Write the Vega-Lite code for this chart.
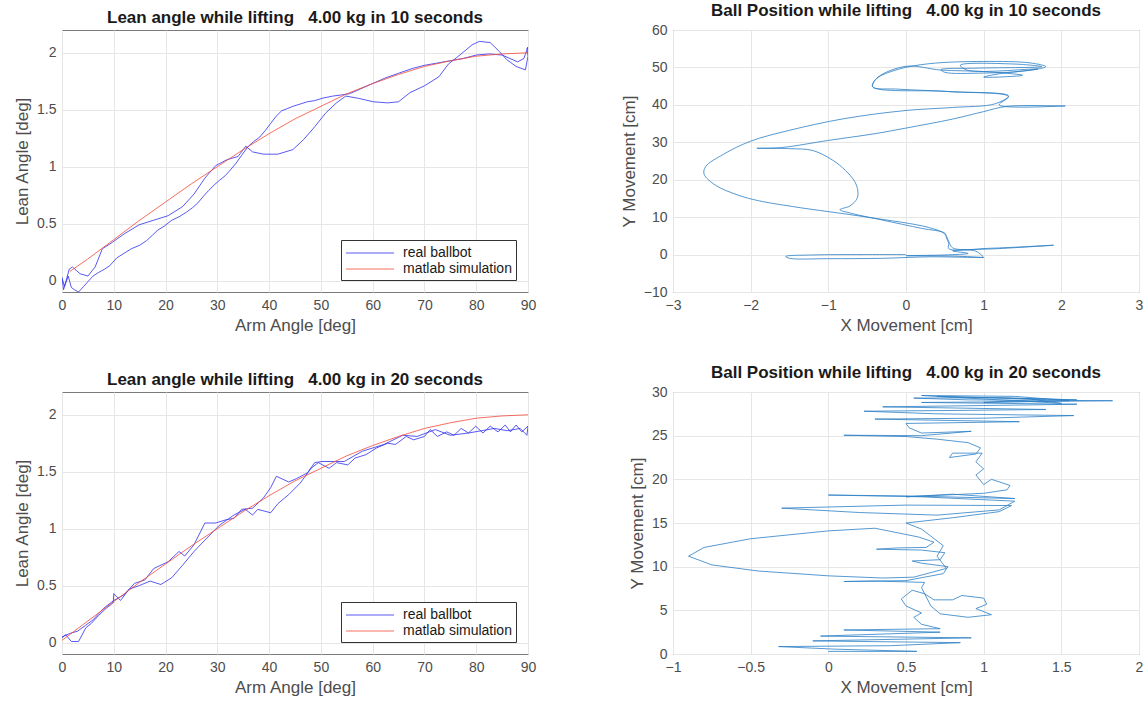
{
  "$schema": "https://vega.github.io/schema/vega-lite/v6.json",
  "background": "white",
  "padding": {"left": 13, "top": 1, "right": 2, "bottom": 2},
  "config": {
    "font": "Liberation Sans",
    "view": {"stroke": "#7a7a7a", "strokeWidth": 1},
    "axis": {"grid": true, "gridColor": "#e6e6e6", "gridWidth": 1, "domain": false, "ticks": false, "labelFontSize": 14, "labelColor": "#4d4d4d", "labelPadding": 6, "labelFlush": false, "labelOverlap": false, "titleFontSize": 17, "titleFontWeight": "normal", "titleColor": "#4d4d4d", "titlePadding": 5},
    "title": {"fontSize": 17, "fontWeight": "bold", "color": "#1a1a1a", "offset": 3}
  },
  "columns": 2,
  "bounds": "flush",
  "spacing": {"row": 100, "column": 145},
  "resolve": {"scale": {"color": "independent"}, "legend": {"color": "independent"}},
  "datasets": {
    "lean10": [
      {"s":"real ballbot","i":0,"x":0,"y":0.02},{"s":"real ballbot","i":1,"x":0.5,"y":-0.05},{"s":"real ballbot","i":2,"x":1.2,"y":0.04},{"s":"real ballbot","i":3,"x":1.8,"y":-0.06},{"s":"real ballbot","i":4,"x":2.4,"y":-0.08},{"s":"real ballbot","i":5,"x":3.2,"y":-0.1},{"s":"real ballbot","i":6,"x":4.2,"y":-0.05},{"s":"real ballbot","i":7,"x":5,"y":-0.01},{"s":"real ballbot","i":8,"x":6,"y":0.04},{"s":"real ballbot","i":9,"x":7,"y":0.07},{"s":"real ballbot","i":10,"x":8.2,"y":0.1},{"s":"real ballbot","i":11,"x":9.2,"y":0.13},{"s":"real ballbot","i":12,"x":10.6,"y":0.2},{"s":"real ballbot","i":13,"x":12,"y":0.24},{"s":"real ballbot","i":14,"x":13.4,"y":0.28},{"s":"real ballbot","i":15,"x":15,"y":0.31},{"s":"real ballbot","i":16,"x":16.3,"y":0.35},{"s":"real ballbot","i":17,"x":17.5,"y":0.4},{"s":"real ballbot","i":18,"x":18.4,"y":0.44},{"s":"real ballbot","i":19,"x":19.8,"y":0.48},{"s":"real ballbot","i":20,"x":21.2,"y":0.53},{"s":"real ballbot","i":21,"x":22.6,"y":0.56},{"s":"real ballbot","i":22,"x":24,"y":0.6},{"s":"real ballbot","i":23,"x":25.2,"y":0.64},{"s":"real ballbot","i":24,"x":26.2,"y":0.68},{"s":"real ballbot","i":25,"x":27.3,"y":0.74},{"s":"real ballbot","i":26,"x":28.3,"y":0.79},{"s":"real ballbot","i":27,"x":29.4,"y":0.84},{"s":"real ballbot","i":28,"x":30.4,"y":0.88},{"s":"real ballbot","i":29,"x":31.5,"y":0.92},{"s":"real ballbot","i":30,"x":32.5,"y":0.97},{"s":"real ballbot","i":31,"x":33.6,"y":1.03},{"s":"real ballbot","i":32,"x":34.7,"y":1.1},{"s":"real ballbot","i":33,"x":36,"y":1.18},{"s":"real ballbot","i":34,"x":37,"y":1.22},{"s":"real ballbot","i":35,"x":38.2,"y":1.26},{"s":"real ballbot","i":36,"x":39.3,"y":1.32},{"s":"real ballbot","i":37,"x":40.3,"y":1.38},{"s":"real ballbot","i":38,"x":41.3,"y":1.44},{"s":"real ballbot","i":39,"x":42.4,"y":1.49},{"s":"real ballbot","i":40,"x":43.5,"y":1.51},{"s":"real ballbot","i":41,"x":44.6,"y":1.53},{"s":"real ballbot","i":42,"x":46,"y":1.55},{"s":"real ballbot","i":43,"x":47.4,"y":1.57},{"s":"real ballbot","i":44,"x":48.8,"y":1.58},{"s":"real ballbot","i":45,"x":50.2,"y":1.6},{"s":"real ballbot","i":46,"x":52.3,"y":1.62},{"s":"real ballbot","i":47,"x":54,"y":1.63},{"s":"real ballbot","i":48,"x":55.5,"y":1.64},{"s":"real ballbot","i":49,"x":57,"y":1.67},{"s":"real ballbot","i":50,"x":58.5,"y":1.7},{"s":"real ballbot","i":51,"x":60,"y":1.73},{"s":"real ballbot","i":52,"x":62.5,"y":1.78},{"s":"real ballbot","i":53,"x":65,"y":1.82},{"s":"real ballbot","i":54,"x":67.5,"y":1.86},{"s":"real ballbot","i":55,"x":70,"y":1.89},{"s":"real ballbot","i":56,"x":72.5,"y":1.91},{"s":"real ballbot","i":57,"x":75,"y":1.93},{"s":"real ballbot","i":58,"x":77.5,"y":1.95},{"s":"real ballbot","i":59,"x":80,"y":1.98},{"s":"real ballbot","i":60,"x":82.5,"y":1.99},{"s":"real ballbot","i":61,"x":85,"y":1.98},{"s":"real ballbot","i":62,"x":86.5,"y":1.95},{"s":"real ballbot","i":63,"x":88,"y":1.92},{"s":"real ballbot","i":64,"x":89.2,"y":1.95},{"s":"real ballbot","i":65,"x":90,"y":2.05},
      {"s":"real ballbot","i":66,"x":89.8,"y":2.04},{"s":"real ballbot","i":67,"x":90,"y":1.97},{"s":"real ballbot","i":68,"x":89.5,"y":1.85},{"s":"real ballbot","i":69,"x":87.7,"y":1.88},{"s":"real ballbot","i":70,"x":85.9,"y":1.94},{"s":"real ballbot","i":71,"x":84.5,"y":2.01},{"s":"real ballbot","i":72,"x":82.7,"y":2.09},{"s":"real ballbot","i":73,"x":80.6,"y":2.1},{"s":"real ballbot","i":74,"x":79.2,"y":2.07},{"s":"real ballbot","i":75,"x":77.1,"y":1.99},{"s":"real ballbot","i":76,"x":74.6,"y":1.9},{"s":"real ballbot","i":77,"x":72.8,"y":1.79},{"s":"real ballbot","i":78,"x":70,"y":1.71},{"s":"real ballbot","i":79,"x":67.2,"y":1.65},{"s":"real ballbot","i":80,"x":65,"y":1.57},{"s":"real ballbot","i":81,"x":62.9,"y":1.56},{"s":"real ballbot","i":82,"x":60.1,"y":1.57},{"s":"real ballbot","i":83,"x":57.3,"y":1.6},{"s":"real ballbot","i":84,"x":54.8,"y":1.62},{"s":"real ballbot","i":85,"x":53,"y":1.56},{"s":"real ballbot","i":86,"x":50.9,"y":1.47},{"s":"real ballbot","i":87,"x":48.8,"y":1.35},{"s":"real ballbot","i":88,"x":46.7,"y":1.24},{"s":"real ballbot","i":89,"x":44.6,"y":1.15},{"s":"real ballbot","i":90,"x":41.7,"y":1.11},{"s":"real ballbot","i":91,"x":38.9,"y":1.11},{"s":"real ballbot","i":92,"x":36.8,"y":1.13},{"s":"real ballbot","i":93,"x":35.5,"y":1.18},{"s":"real ballbot","i":94,"x":34,"y":1.09},{"s":"real ballbot","i":95,"x":31.8,"y":1.06},{"s":"real ballbot","i":96,"x":29.7,"y":1.01},{"s":"real ballbot","i":97,"x":27.6,"y":0.9},{"s":"real ballbot","i":98,"x":25.5,"y":0.76},{"s":"real ballbot","i":99,"x":23.3,"y":0.65},{"s":"real ballbot","i":100,"x":20.5,"y":0.57},{"s":"real ballbot","i":101,"x":17.7,"y":0.53},{"s":"real ballbot","i":102,"x":14.9,"y":0.49},{"s":"real ballbot","i":103,"x":12,"y":0.41},{"s":"real ballbot","i":104,"x":9.2,"y":0.32},{"s":"real ballbot","i":105,"x":7.8,"y":0.28},{"s":"real ballbot","i":106,"x":6.4,"y":0.12},{"s":"real ballbot","i":107,"x":5,"y":0.04},{"s":"real ballbot","i":108,"x":3.5,"y":0.06},{"s":"real ballbot","i":109,"x":2,"y":0.12},{"s":"real ballbot","i":110,"x":1.4,"y":0.1},{"s":"real ballbot","i":111,"x":0.8,"y":0.0},{"s":"real ballbot","i":112,"x":0.3,"y":-0.08},{"s":"real ballbot","i":113,"x":0,"y":0.03},
      {"s":"matlab simulation","i":0,"x":1.5,"y":0.08},{"s":"matlab simulation","i":1,"x":5,"y":0.19},{"s":"matlab simulation","i":2,"x":10,"y":0.36},{"s":"matlab simulation","i":3,"x":15,"y":0.53},{"s":"matlab simulation","i":4,"x":20,"y":0.69},{"s":"matlab simulation","i":5,"x":25,"y":0.85},{"s":"matlab simulation","i":6,"x":30,"y":1.0},{"s":"matlab simulation","i":7,"x":35,"y":1.15},{"s":"matlab simulation","i":8,"x":40,"y":1.29},{"s":"matlab simulation","i":9,"x":45,"y":1.42},{"s":"matlab simulation","i":10,"x":50,"y":1.53},{"s":"matlab simulation","i":11,"x":55,"y":1.64},{"s":"matlab simulation","i":12,"x":60,"y":1.73},{"s":"matlab simulation","i":13,"x":65,"y":1.81},{"s":"matlab simulation","i":14,"x":70,"y":1.88},{"s":"matlab simulation","i":15,"x":75,"y":1.93},{"s":"matlab simulation","i":16,"x":80,"y":1.97},{"s":"matlab simulation","i":17,"x":85,"y":1.99},{"s":"matlab simulation","i":18,"x":90,"y":2.0}
    ],
    "lean20": [
      {"s":"real ballbot","i":0,"x":0,"y":0.04},{"s":"real ballbot","i":1,"x":0.7,"y":0.07},{"s":"real ballbot","i":2,"x":1.8,"y":0.01},{"s":"real ballbot","i":3,"x":3.2,"y":0.01},{"s":"real ballbot","i":4,"x":4.6,"y":0.13},{"s":"real ballbot","i":5,"x":5.7,"y":0.17},{"s":"real ballbot","i":6,"x":7.1,"y":0.24},{"s":"real ballbot","i":7,"x":8.5,"y":0.3},{"s":"real ballbot","i":8,"x":9.9,"y":0.35},{"s":"real ballbot","i":9,"x":10,"y":0.43},{"s":"real ballbot","i":10,"x":11.3,"y":0.37},{"s":"real ballbot","i":11,"x":13,"y":0.47},{"s":"real ballbot","i":12,"x":14.9,"y":0.5},{"s":"real ballbot","i":13,"x":17,"y":0.54},{"s":"real ballbot","i":14,"x":19.1,"y":0.51},{"s":"real ballbot","i":15,"x":21.2,"y":0.57},{"s":"real ballbot","i":16,"x":23.3,"y":0.68},{"s":"real ballbot","i":17,"x":25.5,"y":0.8},{"s":"real ballbot","i":18,"x":27.6,"y":0.9},{"s":"real ballbot","i":19,"x":30.4,"y":1.03},{"s":"real ballbot","i":20,"x":33.2,"y":1.12},{"s":"real ballbot","i":21,"x":35.4,"y":1.17},{"s":"real ballbot","i":22,"x":36.8,"y":1.12},{"s":"real ballbot","i":23,"x":37.8,"y":1.17},{"s":"real ballbot","i":24,"x":40.3,"y":1.14},{"s":"real ballbot","i":25,"x":41.7,"y":1.22},{"s":"real ballbot","i":26,"x":43.8,"y":1.3},{"s":"real ballbot","i":27,"x":46,"y":1.4},{"s":"real ballbot","i":28,"x":48.1,"y":1.53},{"s":"real ballbot","i":29,"x":49.5,"y":1.58},{"s":"real ballbot","i":30,"x":51.6,"y":1.53},{"s":"real ballbot","i":31,"x":53,"y":1.58},{"s":"real ballbot","i":32,"x":55.2,"y":1.56},{"s":"real ballbot","i":33,"x":56.6,"y":1.62},{"s":"real ballbot","i":34,"x":58.7,"y":1.65},{"s":"real ballbot","i":35,"x":60.8,"y":1.71},{"s":"real ballbot","i":36,"x":62.9,"y":1.75},{"s":"real ballbot","i":37,"x":64.4,"y":1.74},{"s":"real ballbot","i":38,"x":66.5,"y":1.81},{"s":"real ballbot","i":39,"x":67.9,"y":1.78},{"s":"real ballbot","i":40,"x":70,"y":1.81},{"s":"real ballbot","i":41,"x":71.1,"y":1.87},{"s":"real ballbot","i":42,"x":72.5,"y":1.81},{"s":"real ballbot","i":43,"x":74.3,"y":1.85},{"s":"real ballbot","i":44,"x":75.7,"y":1.82},{"s":"real ballbot","i":45,"x":77.1,"y":1.88},{"s":"real ballbot","i":46,"x":78.5,"y":1.84},{"s":"real ballbot","i":47,"x":79.9,"y":1.9},{"s":"real ballbot","i":48,"x":81.3,"y":1.84},{"s":"real ballbot","i":49,"x":82.7,"y":1.9},{"s":"real ballbot","i":50,"x":84.2,"y":1.85},{"s":"real ballbot","i":51,"x":85.6,"y":1.91},{"s":"real ballbot","i":52,"x":86.6,"y":1.85},{"s":"real ballbot","i":53,"x":87.7,"y":1.91},{"s":"real ballbot","i":54,"x":88.8,"y":1.85},{"s":"real ballbot","i":55,"x":90,"y":1.9},{"s":"real ballbot","i":56,"x":89.8,"y":1.82},
      {"s":"real ballbot","i":57,"x":88.5,"y":1.88},{"s":"real ballbot","i":58,"x":86,"y":1.86},{"s":"real ballbot","i":59,"x":83.5,"y":1.88},{"s":"real ballbot","i":60,"x":81,"y":1.86},{"s":"real ballbot","i":61,"x":78.5,"y":1.84},{"s":"real ballbot","i":62,"x":75,"y":1.82},{"s":"real ballbot","i":63,"x":72.1,"y":1.87},{"s":"real ballbot","i":64,"x":68.6,"y":1.81},{"s":"real ballbot","i":65,"x":65.8,"y":1.82},{"s":"real ballbot","i":66,"x":62.2,"y":1.74},{"s":"real ballbot","i":67,"x":58,"y":1.68},{"s":"real ballbot","i":68,"x":54.5,"y":1.59},{"s":"real ballbot","i":69,"x":50.2,"y":1.59},{"s":"real ballbot","i":70,"x":48.8,"y":1.58},{"s":"real ballbot","i":71,"x":47.4,"y":1.49},{"s":"real ballbot","i":72,"x":45.3,"y":1.44},{"s":"real ballbot","i":73,"x":43.8,"y":1.41},{"s":"real ballbot","i":74,"x":41.4,"y":1.46},{"s":"real ballbot","i":75,"x":40.3,"y":1.36},{"s":"real ballbot","i":76,"x":38.9,"y":1.27},{"s":"real ballbot","i":77,"x":36.8,"y":1.18},{"s":"real ballbot","i":78,"x":34.7,"y":1.17},{"s":"real ballbot","i":79,"x":33.2,"y":1.09},{"s":"real ballbot","i":80,"x":31.8,"y":1.08},{"s":"real ballbot","i":81,"x":29.7,"y":1.05},{"s":"real ballbot","i":82,"x":27.6,"y":1.05},{"s":"real ballbot","i":83,"x":25.5,"y":0.86},{"s":"real ballbot","i":84,"x":23.7,"y":0.76},{"s":"real ballbot","i":85,"x":22.6,"y":0.8},{"s":"real ballbot","i":86,"x":20.5,"y":0.71},{"s":"real ballbot","i":87,"x":17.7,"y":0.65},{"s":"real ballbot","i":88,"x":16,"y":0.55},{"s":"real ballbot","i":89,"x":14,"y":0.52},{"s":"real ballbot","i":90,"x":12,"y":0.42},{"s":"real ballbot","i":91,"x":10,"y":0.37},{"s":"real ballbot","i":92,"x":8,"y":0.3},{"s":"real ballbot","i":93,"x":6,"y":0.2},{"s":"real ballbot","i":94,"x":4.5,"y":0.15},{"s":"real ballbot","i":95,"x":3,"y":0.1},{"s":"real ballbot","i":96,"x":1.5,"y":0.08},{"s":"real ballbot","i":97,"x":0,"y":0.05},
      {"s":"matlab simulation","i":0,"x":0,"y":0.02},{"s":"matlab simulation","i":1,"x":5,"y":0.19},{"s":"matlab simulation","i":2,"x":10,"y":0.36},{"s":"matlab simulation","i":3,"x":15,"y":0.53},{"s":"matlab simulation","i":4,"x":20,"y":0.69},{"s":"matlab simulation","i":5,"x":25,"y":0.85},{"s":"matlab simulation","i":6,"x":30,"y":1.0},{"s":"matlab simulation","i":7,"x":35,"y":1.15},{"s":"matlab simulation","i":8,"x":40,"y":1.29},{"s":"matlab simulation","i":9,"x":45,"y":1.42},{"s":"matlab simulation","i":10,"x":50,"y":1.53},{"s":"matlab simulation","i":11,"x":55,"y":1.64},{"s":"matlab simulation","i":12,"x":60,"y":1.73},{"s":"matlab simulation","i":13,"x":65,"y":1.81},{"s":"matlab simulation","i":14,"x":70,"y":1.88},{"s":"matlab simulation","i":15,"x":75,"y":1.93},{"s":"matlab simulation","i":16,"x":80,"y":1.97},{"s":"matlab simulation","i":17,"x":85,"y":1.99},{"s":"matlab simulation","i":18,"x":90,"y":2.0}
    ],
    "ball10": [
      {"i":0,"x":0.0,"y":0.0},{"i":1,"x":-0.55,"y":0.0},{"i":2,"x":-1.2,"y":-0.1},{"i":3,"x":-1.55,"y":-0.5},{"i":4,"x":-1.5,"y":-1.0},{"i":5,"x":-1.0,"y":-1.1},{"i":6,"x":-0.3,"y":-1.0},{"i":7,"x":0.3,"y":-0.6},{"i":8,"x":1.0,"y":-0.8},{"i":9,"x":0.6,"y":-0.4},{"i":10,"x":0.0,"y":-0.3},{"i":11,"x":0.5,"y":-0.1},{"i":12,"x":0.8,"y":0.3},{"i":13,"x":0.6,"y":1.0},{"i":14,"x":1.2,"y":1.6},{"i":15,"x":1.9,"y":2.5},{"i":16,"x":1.1,"y":1.7},{"i":17,"x":0.55,"y":1.6},{"i":18,"x":0.55,"y":3.0},{"i":19,"x":0.52,"y":4.5},{"i":20,"x":0.5,"y":5.7},{"i":21,"x":0.2,"y":7.0},{"i":22,"x":-0.3,"y":9.2},{"i":23,"x":-0.7,"y":11.0},{"i":24,"x":-0.85,"y":12.0},{"i":25,"x":-0.72,"y":13.0},{"i":26,"x":-0.63,"y":15.0},{"i":27,"x":-0.62,"y":17.0},{"i":28,"x":-0.66,"y":19.5},{"i":29,"x":-0.78,"y":22.5},{"i":30,"x":-0.95,"y":25.3},{"i":31,"x":-1.2,"y":27.8},{"i":32,"x":-1.5,"y":28.3},{"i":33,"x":-1.92,"y":28.4},{"i":34,"x":-1.6,"y":28.6},{"i":35,"x":-1.0,"y":30.5},{"i":36,"x":-0.4,"y":32.3},{"i":37,"x":0.0,"y":33.8},{"i":38,"x":0.6,"y":36.2},{"i":39,"x":1.0,"y":38.2},{"i":40,"x":1.3,"y":39.6},{"i":41,"x":2.05,"y":39.7},{"i":42,"x":1.2,"y":40.0},{"i":43,"x":1.32,"y":42.2},{"i":44,"x":0.6,"y":43.5},{"i":45,"x":-0.1,"y":44.2},{"i":46,"x":-0.43,"y":44.8},{"i":47,"x":-0.38,"y":47.0},{"i":48,"x":-0.1,"y":49.5},{"i":49,"x":0.3,"y":51.0},{"i":50,"x":1.0,"y":51.6},{"i":51,"x":1.6,"y":51.2},{"i":52,"x":1.8,"y":50.2},{"i":53,"x":1.5,"y":49.0},{"i":54,"x":1.0,"y":48.5},{"i":55,"x":0.5,"y":48.7},{"i":56,"x":0.45,"y":49.4},{"i":57,"x":0.9,"y":49.8},{"i":58,"x":1.75,"y":50.2},{"i":59,"x":1.4,"y":50.9},{"i":60,"x":0.7,"y":50.6},{"i":61,"x":0.8,"y":49.2},{"i":62,"x":1.7,"y":49.6},{"i":63,"x":1.2,"y":48.3},{"i":64,"x":1.0,"y":47.4},{"i":65,"x":1.5,"y":47.9},{"i":66,"x":1.0,"y":48.9},{"i":67,"x":0.45,"y":49.3},{"i":68,"x":0.0,"y":50.3},{"i":69,"x":-0.36,"y":47.4},{"i":70,"x":-0.43,"y":44.9},{"i":71,"x":0.5,"y":43.6},{"i":72,"x":1.32,"y":42.4},{"i":73,"x":1.15,"y":40.3},{"i":74,"x":0.6,"y":39.3},{"i":75,"x":0.0,"y":38.5},{"i":76,"x":-0.8,"y":36.3},{"i":77,"x":-1.5,"y":33.2},{"i":78,"x":-2.0,"y":30.3},{"i":79,"x":-2.35,"y":26.8},{"i":80,"x":-2.58,"y":23.5},{"i":81,"x":-2.6,"y":21.5},{"i":82,"x":-2.45,"y":18.5},{"i":83,"x":-2.15,"y":15.8},{"i":84,"x":-1.9,"y":14.4},{"i":85,"x":-1.45,"y":12.8},{"i":86,"x":-0.5,"y":10.0},{"i":87,"x":0.3,"y":7.2},{"i":88,"x":0.5,"y":5.5},{"i":89,"x":0.55,"y":3.5},{"i":90,"x":0.6,"y":1.8},{"i":91,"x":0.9,"y":0.9},{"i":92,"x":1.0,"y":-0.7}
    ],
    "ball20": [
      {"i":0,"x":0.0,"y":0.3},{"i":1,"x":0.57,"y":0.3},{"i":2,"x":0.05,"y":0.55},{"i":3,"x":-0.32,"y":0.85},{"i":4,"x":0.4,"y":0.95},{"i":5,"x":0.85,"y":1.3},{"i":6,"x":-0.1,"y":1.5},{"i":7,"x":0.92,"y":1.85},{"i":8,"x":-0.05,"y":2.05},{"i":9,"x":0.72,"y":2.5},{"i":10,"x":0.1,"y":2.75},{"i":11,"x":0.72,"y":2.9},{"i":12,"x":0.6,"y":3.4},{"i":13,"x":0.55,"y":4.2},{"i":14,"x":0.6,"y":4.7},{"i":15,"x":0.5,"y":5.5},{"i":16,"x":0.47,"y":6.3},{"i":17,"x":0.54,"y":7.3},{"i":18,"x":0.62,"y":6.9},{"i":19,"x":0.68,"y":6.2},{"i":20,"x":0.8,"y":6.2},{"i":21,"x":0.86,"y":6.7},{"i":22,"x":1.0,"y":6.4},{"i":23,"x":1.02,"y":5.7},{"i":24,"x":0.95,"y":5.2},{"i":25,"x":1.05,"y":4.5},{"i":26,"x":0.9,"y":4.2},{"i":27,"x":0.72,"y":4.6},{"i":28,"x":0.66,"y":5.5},{"i":29,"x":0.6,"y":7.6},{"i":30,"x":0.62,"y":8.2},{"i":31,"x":0.3,"y":8.35},{"i":32,"x":0.1,"y":8.3},{"i":33,"x":0.5,"y":8.4},{"i":34,"x":0.74,"y":9.2},{"i":35,"x":0.77,"y":10.0},{"i":36,"x":0.6,"y":10.4},{"i":37,"x":0.54,"y":10.65},{"i":38,"x":0.72,"y":10.8},{"i":39,"x":0.75,"y":11.6},{"i":40,"x":0.6,"y":11.9},{"i":41,"x":0.31,"y":12.0},{"i":42,"x":0.45,"y":12.15},{"i":43,"x":0.63,"y":12.2},{"i":44,"x":0.68,"y":12.8},{"i":45,"x":0.58,"y":13.4},{"i":46,"x":0.3,"y":14.4},{"i":47,"x":0.0,"y":14.1},{"i":48,"x":-0.5,"y":13.2},{"i":49,"x":-0.8,"y":12.2},{"i":50,"x":-0.9,"y":11.2},{"i":51,"x":-0.75,"y":10.2},{"i":52,"x":-0.45,"y":9.5},{"i":53,"x":0.0,"y":8.95},{"i":54,"x":0.35,"y":8.7},{"i":55,"x":0.55,"y":8.8},{"i":56,"x":0.76,"y":9.8},{"i":57,"x":0.7,"y":11.2},{"i":58,"x":0.74,"y":12.4},{"i":59,"x":0.66,"y":13.5},{"i":60,"x":0.6,"y":14.3},{"i":61,"x":0.5,"y":15.0},{"i":62,"x":0.8,"y":15.6},{"i":63,"x":1.1,"y":16.3},{"i":64,"x":1.18,"y":17.0},{"i":65,"x":0.5,"y":17.05},{"i":66,"x":-0.3,"y":16.7},{"i":67,"x":0.2,"y":16.2},{"i":68,"x":0.7,"y":15.9},{"i":69,"x":1.1,"y":16.5},{"i":70,"x":1.2,"y":17.5},{"i":71,"x":0.6,"y":18.0},{"i":72,"x":0.0,"y":18.2},{"i":73,"x":0.5,"y":18.1},{"i":74,"x":1.2,"y":17.8},{"i":75,"x":0.8,"y":18.3},{"i":76,"x":0.5,"y":18.0},{"i":77,"x":1.0,"y":18.4},{"i":78,"x":1.15,"y":18.8},{"i":79,"x":1.17,"y":19.3},{"i":80,"x":1.05,"y":20.0},{"i":81,"x":1.0,"y":19.4},{"i":82,"x":0.95,"y":20.5},{"i":83,"x":1.0,"y":21.2},{"i":84,"x":0.95,"y":22.0},{"i":85,"x":0.99,"y":23.0},{"i":86,"x":0.8,"y":23.0},{"i":87,"x":0.78,"y":22.5},{"i":88,"x":0.95,"y":22.9},{"i":89,"x":0.98,"y":23.6},{"i":90,"x":0.9,"y":24.2},{"i":91,"x":0.7,"y":24.6},{"i":92,"x":0.5,"y":24.9},{"i":93,"x":0.1,"y":25.05},{"i":94,"x":0.6,"y":25.0},{"i":95,"x":0.92,"y":25.5},{"i":96,"x":0.6,"y":25.3},{"i":97,"x":0.52,"y":25.9},{"i":98,"x":0.5,"y":26.4},{"i":99,"x":1.23,"y":26.6},{"i":100,"x":0.6,"y":26.8},{"i":101,"x":0.3,"y":26.9},{"i":102,"x":1.0,"y":27.0},{"i":103,"x":1.58,"y":27.3},{"i":104,"x":0.7,"y":27.5},{"i":105,"x":0.23,"y":27.8},{"i":106,"x":0.9,"y":27.9},{"i":107,"x":1.4,"y":28.0},{"i":108,"x":0.35,"y":28.3},{"i":109,"x":1.2,"y":28.5},{"i":110,"x":1.6,"y":28.6},{"i":111,"x":0.6,"y":28.8},{"i":112,"x":1.3,"y":28.9},{"i":113,"x":1.83,"y":29.0},{"i":114,"x":0.9,"y":29.1},{"i":115,"x":0.55,"y":29.3},{"i":116,"x":1.1,"y":29.35},{"i":117,"x":1.6,"y":29.1},{"i":118,"x":0.7,"y":29.5},{"i":119,"x":1.3,"y":29.2},{"i":120,"x":1.5,"y":28.7},{"i":121,"x":0.8,"y":29.4},{"i":122,"x":0.6,"y":29.6},{"i":123,"x":1.2,"y":29.5},{"i":124,"x":1.55,"y":29.0},{"i":125,"x":1.0,"y":28.8},{"i":126,"x":1.4,"y":29.2}
    ]
  },
  "concat": [
    {
      "title": "Lean angle while lifting \u00a0 4.00 kg in 10 seconds",
      "width": 466, "height": 262,
      "data": {"name": "lean10"},
      "mark": {"type": "line", "strokeWidth": 1, "opacity": 0.8, "clip": true},
      "encoding": {
        "x": {"field": "x", "type": "quantitative", "scale": {"domain": [0, 90], "nice": false}, "axis": {"title": "Arm Angle [deg]", "values": [0,10,20,30,40,50,60,70,80,90], "format": "~r"}},
        "y": {"field": "y", "type": "quantitative", "scale": {"domain": [-0.1, 2.2], "nice": false, "zero": false}, "axis": {"title": "Lean Angle [deg]", "values": [0,0.5,1,1.5,2], "format": "~r"}},
        "color": {"field": "s", "type": "nominal", "scale": {"domain": ["real ballbot", "matlab simulation"], "range": ["#3030f0", "#f54a3a"]},
          "legend": {"title": null, "orient": "bottom-right", "offset": 12, "padding": 4, "strokeColor": "#333333", "fillColor": "white", "symbolType": "M-1,0H5", "symbolSize": 256, "symbolStrokeWidth": 1.2, "symbolFillColor": "transparent", "labelFontSize": 14, "labelColor": "#1a1a1a", "rowPadding": 0, "labelOffset": 40}},
        "order": {"field": "i", "type": "quantitative"}
      }
    },
    {
      "title": "Ball Position while lifting \u00a0 4.00 kg in 10 seconds",
      "width": 466, "height": 262,
      "data": {"name": "ball10"},
      "mark": {"type": "line", "strokeWidth": 1, "color": "#2c7fc6", "opacity": 0.8, "clip": true, "interpolate": "catmull-rom"},
      "encoding": {
        "x": {"field": "x", "type": "quantitative", "scale": {"domain": [-3, 3], "nice": false, "zero": false}, "axis": {"title": "X Movement [cm]", "values": [-3,-2,-1,0,1,2,3], "format": "~r"}},
        "y": {"field": "y", "type": "quantitative", "scale": {"domain": [-10, 60], "nice": false, "zero": false}, "axis": {"title": "Y Movement [cm]", "values": [-10,0,10,20,30,40,50,60], "format": "~r"}},
        "order": {"field": "i", "type": "quantitative"}
      }
    },
    {
      "title": "Lean angle while lifting \u00a0 4.00 kg in 20 seconds",
      "width": 466, "height": 262,
      "data": {"name": "lean20"},
      "mark": {"type": "line", "strokeWidth": 1, "opacity": 0.8, "clip": true},
      "encoding": {
        "x": {"field": "x", "type": "quantitative", "scale": {"domain": [0, 90], "nice": false}, "axis": {"title": "Arm Angle [deg]", "values": [0,10,20,30,40,50,60,70,80,90], "format": "~r"}},
        "y": {"field": "y", "type": "quantitative", "scale": {"domain": [-0.1, 2.2], "nice": false, "zero": false}, "axis": {"title": "Lean Angle [deg]", "values": [0,0.5,1,1.5,2], "format": "~r"}},
        "color": {"field": "s", "type": "nominal", "scale": {"domain": ["real ballbot", "matlab simulation"], "range": ["#3030f0", "#f54a3a"]},
          "legend": {"title": null, "orient": "bottom-right", "offset": 12, "padding": 4, "strokeColor": "#333333", "fillColor": "white", "symbolType": "M-1,0H5", "symbolSize": 256, "symbolStrokeWidth": 1.2, "symbolFillColor": "transparent", "labelFontSize": 14, "labelColor": "#1a1a1a", "rowPadding": 0, "labelOffset": 40}},
        "order": {"field": "i", "type": "quantitative"}
      }
    },
    {
      "title": "Ball Position while lifting \u00a0 4.00 kg in 20 seconds",
      "width": 466, "height": 262,
      "data": {"name": "ball20"},
      "mark": {"type": "line", "strokeWidth": 1, "color": "#2c7fc6", "opacity": 0.8, "clip": true},
      "encoding": {
        "x": {"field": "x", "type": "quantitative", "scale": {"domain": [-1, 2], "nice": false, "zero": false}, "axis": {"title": "X Movement [cm]", "values": [-1,-0.5,0,0.5,1,1.5,2], "format": "~r"}},
        "y": {"field": "y", "type": "quantitative", "scale": {"domain": [0, 30], "nice": false, "zero": false}, "axis": {"title": "Y Movement [cm]", "values": [0,5,10,15,20,25,30], "format": "~r"}},
        "order": {"field": "i", "type": "quantitative"}
      }
    }
  ]
}
